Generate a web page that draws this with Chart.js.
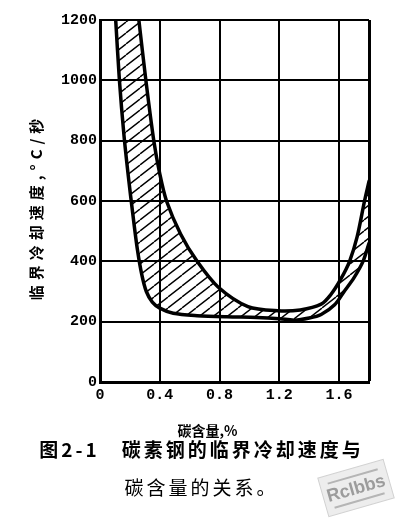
<!DOCTYPE html>
<html>
<head>
<meta charset="utf-8">
<script src="https://cdn.jsdelivr.net/npm/chart.js@4.4.1/dist/chart.umd.min.js"></script>
<style>
html,body{margin:0;padding:0;background:#fff;}
canvas{display:block;}
</style>
</head>
<body>
<canvas id="c" width="408" height="527"></canvas>
<script>
// ---- data ----
const xTickValues = [0, 0.4, 0.8, 1.2, 1.6, 1.8];
const xTickLabels = ['0', '0.4', '0.8', '1.2', '1.6', ''];
const yTickValues = [0, 200, 400, 600, 800, 1000, 1200];

// upper boundary of the band (carbon %, critical cooling rate °C/s)
const upperCarbon = [0.26, 0.307, 0.36, 0.40, 0.445, 0.54, 0.65, 0.79, 0.99, 1.19, 1.34, 1.48, 1.545, 1.61, 1.67, 1.72, 1.77, 1.80];
const upperRate   = [1200, 1000, 800, 690, 600, 490, 400, 315, 250, 236, 239, 258, 290, 340, 400, 480, 600, 665];

// lower boundary of the band
const lowerCarbon = [0.105, 0.13, 0.16, 0.19, 0.22, 0.25, 0.28, 0.31, 0.35, 0.40, 0.49, 0.65, 0.85, 1.05, 1.2, 1.3, 1.4, 1.48, 1.57, 1.635, 1.70, 1.76, 1.80];
const lowerRate   = [1200, 1000, 820, 680, 555, 440, 355, 300, 265, 245, 228, 220, 216, 214, 210, 205, 212, 224, 256, 301, 346, 400, 460];

const xTitle = '碳含量,%';
const yTitle = '临界冷却速度,°C/秒';
const captionLine1 = '图2-1　碳素钢的临界冷却速度与';
const captionLine2 = '碳含量的关系。';
const watermarkText = 'Rclbbs';

// ---- build ----
const upperPts = upperCarbon.map((x, i) => ({x: x, y: upperRate[i]}));
const lowerPts = lowerCarbon.map((x, i) => ({x: x, y: lowerRate[i]}));
const bandPts = lowerPts.concat(upperPts.slice().reverse());

const canvas = document.getElementById('c');
const ctx0 = canvas.getContext('2d');

function makeHatch() {
  const w = 14, h = 11;
  const c = document.createElement('canvas');
  c.width = w; c.height = h;
  const g = c.getContext('2d');
  g.strokeStyle = '#000';
  g.lineWidth = 1.4;
  g.beginPath();
  g.moveTo(0, h); g.lineTo(w, 0);
  g.moveTo(-w, h); g.lineTo(0, 0);
  g.moveTo(w, h); g.lineTo(2 * w, 0);
  g.stroke();
  return ctx0.createPattern(c, 'repeat');
}
const hatch = makeHatch();

const tickFont = {family: '"Liberation Mono", "DejaVu Sans Mono", monospace', size: 15, weight: 'bold'};
const cjk = '"Noto Sans CJK SC", "Noto Sans", sans-serif';

const textTweaks = {
  id: 'textTweaks',
  beforeDraw(chart) {
    chart.boxes.forEach(b => {
      if (b.__wrapped) return;
      b.__wrapped = true;
      if (b.id === 'y' || b.id === 'x') {
        const orig = b.drawTitle;
        b.drawTitle = function () {
          const c = this.ctx;
          c.save();
          if (this.id === 'y') { c.letterSpacing = '5px'; c.translate(0, 6); }
          else { c.translate(-27, 0); }
          orig.call(this);
          c.restore();
        };
      } else if (b.options && b.options.text !== undefined) {
        const orig = b.draw;
        b.draw = function (...a) {
          const c = this.ctx;
          c.save();
          c.letterSpacing = '3px';
          c.translate(17, 0);
          orig.apply(this, a);
          c.restore();
        };
      }
    });
  },
  afterDraw(chart) {
    const c = chart.ctx;
    c.save();
    c.translate(356, 488);
    c.rotate(-0.28);
    c.fillStyle = 'rgba(236,236,236,0.95)';
    c.strokeStyle = '#d2d2d2';
    c.lineWidth = 1;
    c.beginPath();
    c.rect(-34, -20, 68, 40);
    c.fill();
    c.stroke();
    c.strokeStyle = '#b5b5b5';
    c.lineWidth = 2;
    c.beginPath();
    c.moveTo(-26, -12); c.lineTo(26, -12);
    c.moveTo(-26, 13); c.lineTo(26, 13);
    c.stroke();
    c.fillStyle = '#9c9c9c';
    c.font = 'bold 18px "Liberation Sans", Arial, sans-serif';
    c.textAlign = 'center';
    c.textBaseline = 'middle';
    c.fillText(watermarkText, 0, 1);
    c.restore();
  }
};

Chart.defaults.color = '#000';

new Chart(canvas, {
  type: 'line',
  data: {
    datasets: [
      {
        label: 'upper',
        data: upperPts,
        borderColor: '#000',
        borderWidth: 3.5,
        pointRadius: 0,
        tension: 0.3,
        fill: false,
        borderCapStyle: 'round',
        borderJoinStyle: 'round'
      },
      {
        label: 'lower',
        data: lowerPts,
        borderColor: '#000',
        borderWidth: 3.5,
        pointRadius: 0,
        tension: 0.3,
        fill: false,
        borderCapStyle: 'round',
        borderJoinStyle: 'round'
      },
      {
        label: 'band',
        data: bandPts,
        borderWidth: 0,
        borderColor: 'rgba(0,0,0,0)',
        backgroundColor: hatch,
        pointRadius: 0,
        tension: 0.3,
        fill: 'shape'
      }
    ]
  },
  options: {
    responsive: false,
    devicePixelRatio: 1,
    animation: false,
    events: [],
    layout: {padding: {top: 20, right: 39, bottom: 0, left: 0}},
    plugins: {
      legend: {display: false},
      tooltip: {enabled: false},
      subtitle: {
        display: true,
        position: 'bottom',
        text: captionLine1,
        color: '#000',
        font: {family: cjk, size: 19, weight: 'bold', lineHeight: 1.2},
        padding: {top: 0, bottom: 16}
      },
      title: {
        display: true,
        position: 'bottom',
        text: captionLine2,
        color: '#000',
        font: {family: cjk, size: 19, weight: 'normal', lineHeight: 1.2},
        padding: {top: 0, bottom: 27.4}
      }
    },
    scales: {
      x: {
        type: 'linear',
        min: 0,
        max: 1.8,
        afterFit: s => { s.height = 56; },
        afterBuildTicks: s => { s.ticks = xTickValues.map(v => ({value: v})); },
        ticks: {
          font: tickFont,
          color: '#000',
          padding: 4,
          maxRotation: 0,
          autoSkip: false,
          callback: (v, i) => xTickLabels[i]
        },
        grid: {
          color: '#000',
          lineWidth: c => (c.tick && c.tick.value === 1.8) ? 3 : 2,
          drawTicks: false
        },
        border: {display: true, color: '#000', width: 3},
        title: {
          display: true,
          text: xTitle,
          color: '#000',
          font: {family: cjk, size: 14, weight: 'bold', lineHeight: 1},
          padding: {top: 0, bottom: 0}
        }
      },
      y: {
        type: 'linear',
        min: 0,
        max: 1200,
        afterFit: s => { s.width = 100; },
        afterBuildTicks: s => { s.ticks = yTickValues.map(v => ({value: v})); },
        ticks: {
          font: tickFont,
          color: '#000',
          padding: 3,
          callback: v => String(v)
        },
        grid: {
          color: '#000',
          lineWidth: 2,
          drawTicks: false
        },
        border: {display: true, color: '#000', width: 3},
        title: {
          display: true,
          text: yTitle,
          color: '#000',
          font: {family: cjk, size: 15, weight: 'bold', lineHeight: 1},
          padding: {top: 28.5, bottom: 0}
        }
      }
    }
  },
  plugins: [textTweaks]
});
</script>
</body>
</html>
